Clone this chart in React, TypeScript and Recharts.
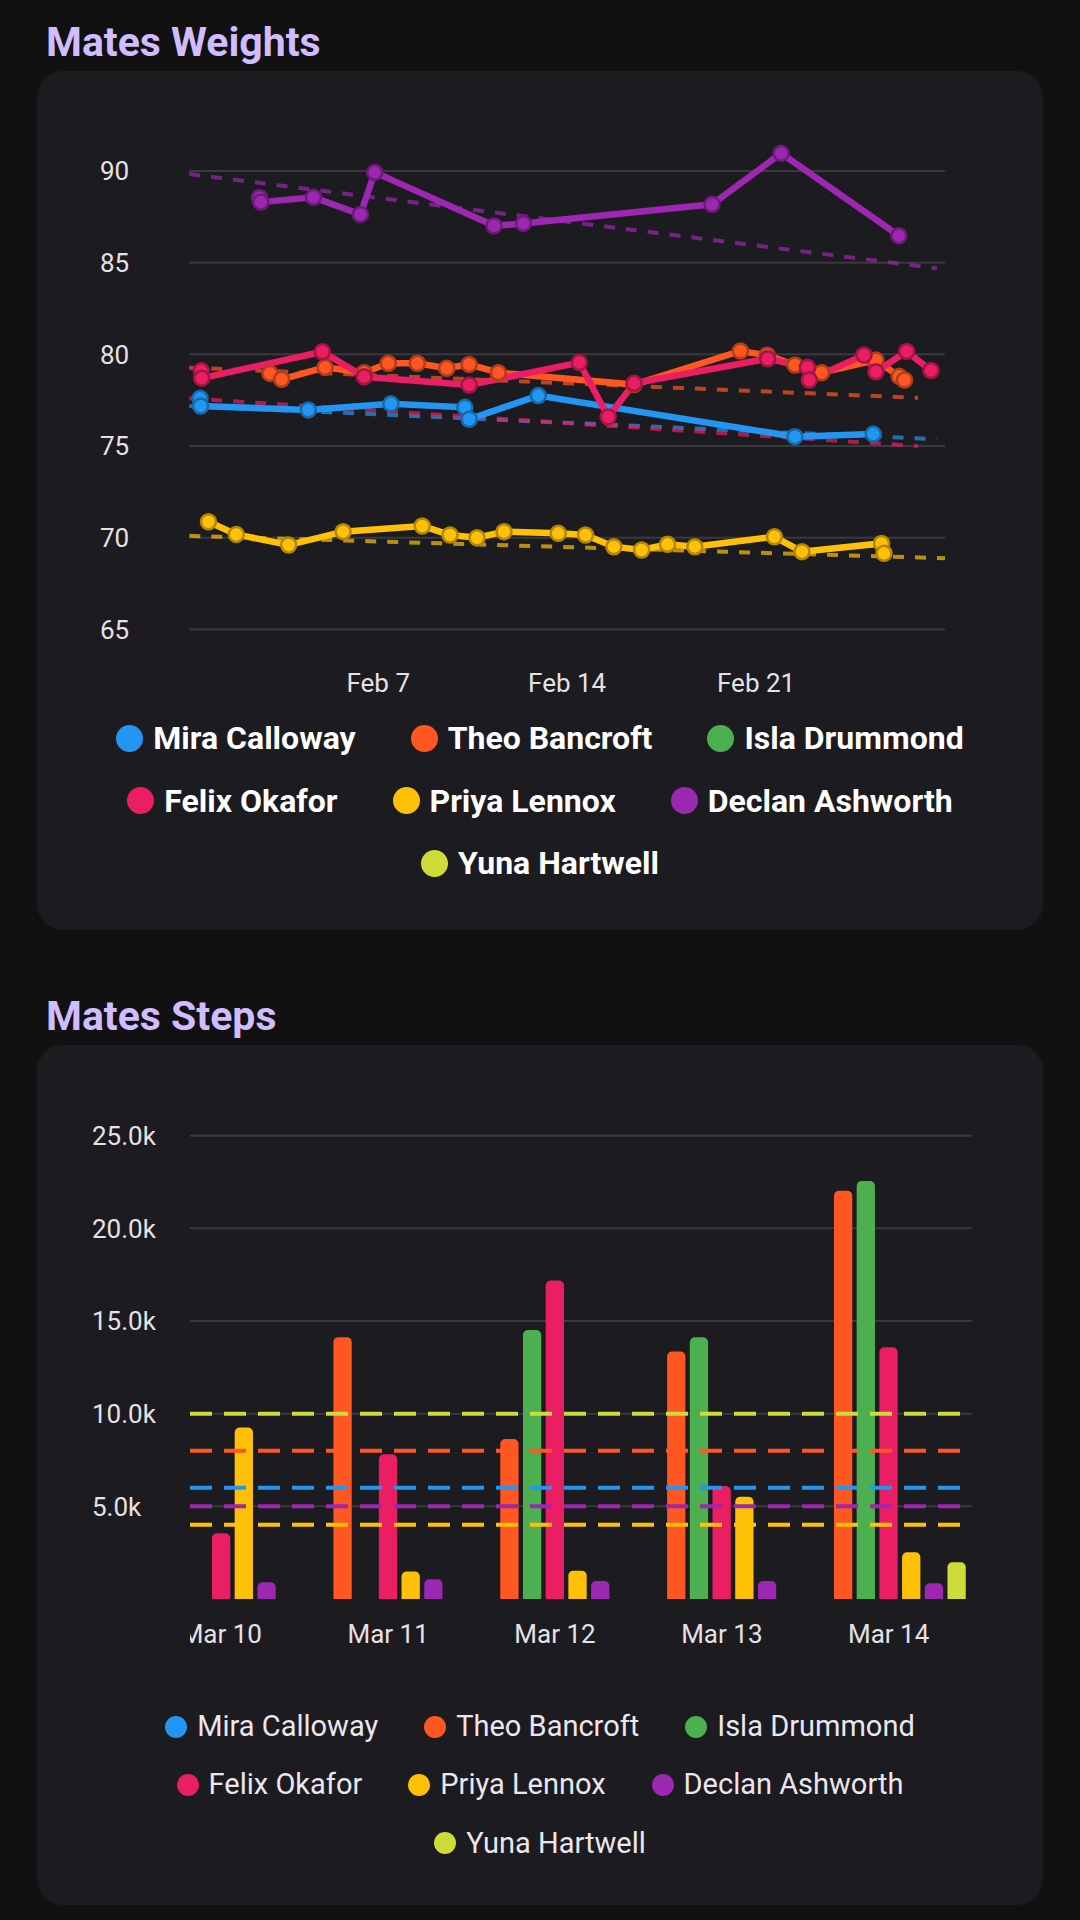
import React from 'react';
import { LineChart, Line, BarChart, Bar, XAxis, YAxis, CartesianGrid, ReferenceLine } from 'recharts';

// ---------- people ----------
const PEOPLE = ['Mira Calloway', 'Theo Bancroft', 'Isla Drummond', 'Felix Okafor', 'Priya Lennox', 'Declan Ashworth', 'Yuna Hartwell'];
const PERSON_KEYS = ['mira', 'theo', 'isla', 'felix', 'priya', 'declan', 'yuna'];
const PERSON_COLORS = ['#2196F3', '#FF5722', '#4CAF50', '#E91E63', '#FFC107', '#9C27B0', '#CDDC39'];

// ---------- weights (d = days after Jan 31, v = kg) ----------
const miraWeights = [
  { d: 0.40, v: 77.6 }, { d: 0.42, v: 77.18 }, { d: 4.41, v: 76.97 }, { d: 7.47, v: 77.3 },
  { d: 10.21, v: 77.11 }, { d: 10.37, v: 76.46 }, { d: 12.93, v: 77.75 }, { d: 22.44, v: 75.51 },
  { d: 25.34, v: 75.65 },
];
const theoWeights = [
  { d: 2.99, v: 78.96 }, { d: 3.42, v: 78.64 }, { d: 5.03, v: 79.29 }, { d: 6.48, v: 79.0 },
  { d: 7.37, v: 79.51 }, { d: 8.45, v: 79.51 }, { d: 9.54, v: 79.24 }, { d: 10.37, v: 79.45 },
  { d: 11.45, v: 79.0 }, { d: 16.48, v: 78.35 }, { d: 20.42, v: 80.18 }, { d: 21.41, v: 79.95 },
  { d: 22.44, v: 79.42 }, { d: 23.43, v: 79.0 }, { d: 25.44, v: 79.69 }, { d: 26.3, v: 78.8 },
  { d: 26.5, v: 78.6 },
];
const felixWeights = [
  { d: 0.44, v: 79.1 }, { d: 0.46, v: 78.7 }, { d: 4.93, v: 80.14 }, { d: 6.48, v: 78.78 },
  { d: 10.37, v: 78.33 }, { d: 14.45, v: 79.55 }, { d: 15.52, v: 76.58 }, { d: 16.48, v: 78.42 },
  { d: 21.43, v: 79.76 }, { d: 22.9, v: 79.3 }, { d: 22.97, v: 78.6 }, { d: 25.0, v: 79.96 },
  { d: 25.44, v: 79.05 }, { d: 26.58, v: 80.16 }, { d: 27.48, v: 79.12 },
];
const priyaWeights = [
  { d: 0.71, v: 70.87 }, { d: 1.74, v: 70.18 }, { d: 3.68, v: 69.6 }, { d: 5.7, v: 70.33 },
  { d: 8.63, v: 70.64 }, { d: 9.66, v: 70.15 }, { d: 10.66, v: 70.0 }, { d: 11.66, v: 70.33 },
  { d: 13.67, v: 70.24 }, { d: 14.68, v: 70.15 }, { d: 15.73, v: 69.51 }, { d: 16.76, v: 69.33 },
  { d: 17.72, v: 69.64 }, { d: 18.73, v: 69.51 }, { d: 21.68, v: 70.05 }, { d: 22.7, v: 69.24 },
  { d: 25.65, v: 69.69 }, { d: 25.74, v: 69.15 },
];
const declanWeights = [
  { d: 2.6, v: 88.55 }, { d: 2.65, v: 88.3 }, { d: 4.6, v: 88.56 }, { d: 6.34, v: 87.63 },
  { d: 6.87, v: 89.92 }, { d: 11.29, v: 87.01 }, { d: 12.38, v: 87.14 }, { d: 19.37, v: 88.18 },
  { d: 21.93, v: 90.96 }, { d: 26.29, v: 86.47 },
];

// trend lines (dashed)
const miraTrend = [{ d: 0, v: 77.18 }, { d: 27.7, v: 75.37 }];
const theoTrend = [{ d: 0, v: 79.27 }, { d: 27, v: 77.63 }];
const felixTrend = [{ d: 0, v: 77.6 }, { d: 27, v: 75.0 }];
const priyaTrend = [{ d: 0, v: 70.1 }, { d: 28, v: 68.88 }];
const declanTrend = [{ d: 0, v: 89.83 }, { d: 27.7, v: 84.69 }];

const WEIGHT_SERIES: Record<string, { d: number; v: number }[]> = {
  mira: miraWeights, theo: theoWeights, felix: felixWeights, priya: priyaWeights, declan: declanWeights,
};
const WEIGHT_TRENDS: Record<string, { d: number; v: number }[]> = {
  mira: miraTrend, theo: theoTrend, felix: felixTrend, priya: priyaTrend, declan: declanTrend,
};
const WEIGHT_Y_TICKS = [65, 70, 75, 80, 85, 90];
const WEIGHT_Y_DOMAIN = [65, 91];
const WEIGHT_X_DOMAIN = [0, 28];
const WEIGHT_X_TICKS = [7, 14, 21];
const WEIGHT_X_LABELS = ['Feb 7', 'Feb 14', 'Feb 21'];

// ---------- steps ----------
const STEP_DAYS = ['Mar 10', 'Mar 11', 'Mar 12', 'Mar 13', 'Mar 14'];
const STEP_X_VALUES = [0, 1, 2, 3, 4];
const miraSteps = [null, null, null, null, null];
const theoSteps = [null, 14130, 8630, 13360, 22030];
const islaSteps = [null, null, 14510, 14120, 22550];
const felixSteps = [3550, 7810, 17180, 6100, 13580];
const priyaSteps = [9250, 1480, 1530, 5520, 2520];
const declanSteps = [900, 1060, 970, 970, 850];
const yunaSteps = [null, null, null, null, 1980];
const STEP_GOAL_KEYS = ['yuna', 'theo', 'mira', 'declan', 'priya'];
const STEP_GOAL_VALUES = [10000, 8000, 6000, 5000, 4000];
const STEP_Y_TICKS = [5000, 10000, 15000, 20000, 25000];
const STEP_Y_DOMAIN = [0, 25000];
const STEP_X_DOMAIN = [-0.1876, 4.4975];

const STEP_SERIES: Record<string, (number | null)[]> = {
  mira: miraSteps, theo: theoSteps, isla: islaSteps, felix: felixSteps,
  priya: priyaSteps, declan: declanSteps, yuna: yunaSteps,
};
const stepRows = STEP_DAYS.map((day, i) => {
  const row: Record<string, any> = { i: STEP_X_VALUES[i], day };
  PERSON_KEYS.forEach((k) => { row[k] = STEP_SERIES[k][i]; });
  return row;
});

// ---------- styles ----------
const FONT = "Roboto, 'Noto Sans', sans-serif";
const PAGE_BG = '#111111';
const CARD_BG = '#1C1B20';
const GRID = '#3A393F';
const TICK_COLOR = '#E6E1E5';
const TITLE_COLOR = '#D0BCFF';
const colorOf = (k: string) => PERSON_COLORS[PERSON_KEYS.indexOf(k)];
const darken = (hex: string, f: number) => {
  const n = parseInt(hex.slice(1), 16);
  const r = Math.round(((n >> 16) & 255) * f);
  const g = Math.round(((n >> 8) & 255) * f);
  const b = Math.round((n & 255) * f);
  return `rgb(${r},${g},${b})`;
};

const WeightYTick = (props: any) => (
  <text x={100} y={props.y} dy="0.355em" textAnchor="start" fill={TICK_COLOR} fontSize={26} fontFamily={FONT}>
    {props.payload.value}
  </text>
);
const WeightXTick = (props: any) => {
  const idx = WEIGHT_X_TICKS.indexOf(props.payload.value);
  return (
    <text x={props.x} y={props.y + 53.6} dy="0.355em" textAnchor="middle" fill={TICK_COLOR} fontSize={26} fontFamily={FONT}>
      {WEIGHT_X_LABELS[idx]}
    </text>
  );
};
const StepYTick = (props: any) => (
  <text x={92} y={props.y} dy="0.355em" textAnchor="start" fill={TICK_COLOR} fontSize={26} fontFamily={FONT}>
    {(props.payload.value / 1000).toFixed(1) + 'k'}
  </text>
);
const StepXTick = (props: any) => {
  const id = `step-x-clip-${props.index}`;
  return (
    <g>
      <defs>
        <clipPath id={id}>
          <rect x={190} y={props.y} width={781.7} height={80} />
        </clipPath>
      </defs>
      <text clipPath={`url(#${id})`} x={props.x} y={props.y + 35} dy="0.355em" textAnchor="middle" fill={TICK_COLOR} fontSize={26} fontFamily={FONT}>
        {STEP_DAYS[STEP_X_VALUES.indexOf(props.payload.value)]}
      </text>
    </g>
  );
};

function LegendBlock(p: { top: number; rowHeight: number; fontSize: number; fontWeight: number; dot: number; dotGap: number; itemGap: number; color: string }) {
  const rows: number[][] = [];
  PEOPLE.forEach((_, i) => {
    if (i % 3 === 0) rows.push([]);
    rows[rows.length - 1].push(i);
  });
  return (
    <div style={{ position: 'absolute', left: 0, top: p.top, width: 1080 }}>
      {rows.map((row, r) => (
        <div key={r} style={{ height: p.rowHeight, display: 'flex', justifyContent: 'center', alignItems: 'center', columnGap: p.itemGap }}>
          {row.map((i) => (
            <div key={i} style={{ display: 'flex', alignItems: 'center' }}>
              <span style={{ display: 'inline-block', width: p.dot, height: p.dot, borderRadius: '50%', background: PERSON_COLORS[i], marginRight: p.dotGap }} />
              <span style={{ fontFamily: FONT, fontSize: p.fontSize, fontWeight: p.fontWeight, color: p.color, lineHeight: 1, whiteSpace: 'nowrap' }}>{PEOPLE[i]}</span>
            </div>
          ))}
        </div>
      ))}
    </div>
  );
}

const cardStyle = (top: number, height: number): React.CSSProperties => ({
  position: 'absolute', left: 37, top, width: 1006, height, borderRadius: 26, background: CARD_BG,
});
const titleStyle = (top: number): React.CSSProperties => ({
  position: 'absolute', left: 46, top, fontFamily: FONT, fontWeight: 700, fontSize: 41, lineHeight: '41px', color: TITLE_COLOR, whiteSpace: 'nowrap',
});

export default function App() {
  const weightKeys = PERSON_KEYS.filter((k) => WEIGHT_SERIES[k]);
  return (
    <div style={{ position: 'absolute', left: 0, top: 0, width: 1080, height: 1920, background: PAGE_BG, overflow: 'hidden' }}>
      <div style={titleStyle(22.2)}>Mates Weights</div>
      <div style={cardStyle(71, 859)} />
      <div style={{ position: 'absolute', left: 0, top: 71 }}>
        <LineChart width={1080} height={640} margin={{ top: 81.6, right: 135, bottom: 0, left: 100 }}>
          <CartesianGrid vertical={false} horizontalValues={WEIGHT_Y_TICKS} stroke={GRID} strokeWidth={2} />
          <XAxis type="number" dataKey="d" domain={WEIGHT_X_DOMAIN} ticks={WEIGHT_X_TICKS} interval={0}
            axisLine={false} tickLine={false} tickSize={0} tickMargin={0} height={81.6} tick={WeightXTick} />
          <YAxis type="number" domain={WEIGHT_Y_DOMAIN} ticks={WEIGHT_Y_TICKS} interval={0}
            axisLine={false} tickLine={false} tickSize={0} tickMargin={0} width={89.3} tick={WeightYTick} />
          {weightKeys.map((k) => (
            <Line key={'t-' + k} data={WEIGHT_TRENDS[k]} dataKey="v" type="linear" stroke={colorOf(k)} strokeOpacity={0.7}
              strokeWidth={4} strokeDasharray="11 11" dot={false} activeDot={false} isAnimationActive={false} />
          ))}
          {weightKeys.map((k) => (
            <Line key={k} data={WEIGHT_SERIES[k]} dataKey="v" type="linear" stroke={colorOf(k)} strokeWidth={6.5}
              dot={{ r: 7.5, fill: colorOf(k), stroke: darken(colorOf(k), 0.7), strokeWidth: 2.5 }} activeDot={false} isAnimationActive={false} />
          ))}
        </LineChart>
      </div>
      <LegendBlock top={706.75} rowHeight={62.5} fontSize={32} fontWeight={700} dot={27} dotGap={10} itemGap={55} color="#FFFFFF" />

      <div style={titleStyle(995.5)}>Mates Steps</div>
      <div style={cardStyle(1045, 860)} />
      <div style={{ position: 'absolute', left: 0, top: 1045 }}>
        <BarChart width={1080} height={640} data={stepRows} margin={{ top: 90.7, right: 108.3, bottom: 0, left: 92 }} barGap={4.4}>
          <CartesianGrid vertical={false} horizontalValues={STEP_Y_TICKS} stroke={GRID} strokeWidth={2} />
          <XAxis type="number" dataKey="i" domain={STEP_X_DOMAIN} allowDataOverflow ticks={STEP_X_VALUES} interval={0}
            axisLine={false} tickLine={false} tickSize={0} tickMargin={0} height={86} tick={StepXTick} />
          <YAxis type="number" domain={STEP_Y_DOMAIN} ticks={STEP_Y_TICKS} interval={0}
            axisLine={false} tickLine={false} tickSize={0} tickMargin={0} width={98} tick={StepYTick} />
          {PERSON_KEYS.map((k) => (
            <Bar key={k} dataKey={k} fill={colorOf(k)} barSize={18.3} radius={[5, 5, 0, 0]} isAnimationActive={false} />
          ))}
          {STEP_GOAL_KEYS.map((k, i) => (
            <ReferenceLine key={'g-' + k} y={STEP_GOAL_VALUES[i]} stroke={colorOf(k)} strokeWidth={4} strokeDasharray="22 12" />
          ))}
        </BarChart>
      </div>
      <LegendBlock top={1697.6} rowHeight={58.2} fontSize={29} fontWeight={400} dot={22} dotGap={10} itemGap={46} color="#ECE6F0" />
    </div>
  );
}
